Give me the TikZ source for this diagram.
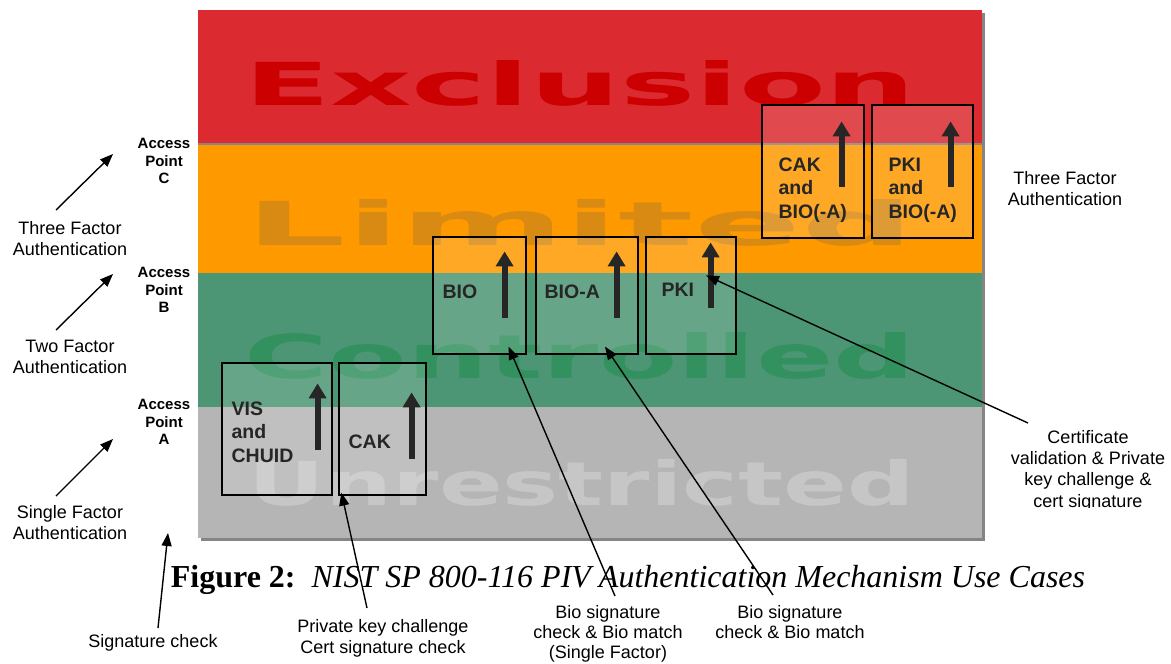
\documentclass[tikz,border=0pt]{standalone}
\usepackage{fontspec}
\setmainfont{Liberation Sans}
\newfontfamily\serifcap{Liberation Serif}
\newfontfamily\zonefont{DejaVu Sans}
\usepackage{graphicx}
\usepackage{tikz}
\usetikzlibrary{positioning, arrows.meta}
\definecolor{exclred}{HTML}{DB2B30}
\definecolor{exclword}{HTML}{CC0000}
\definecolor{limorange}{HTML}{FF9900}
\definecolor{limword}{HTML}{D98A12}
\definecolor{ctrlgreen}{HTML}{4D9675}
\definecolor{ctrlword}{HTML}{33915F}
\definecolor{unrgray}{HTML}{B5B5B5}
\definecolor{unrword}{HTML}{C6C6C6}
\definecolor{shadowgray}{HTML}{858585}
\definecolor{inkgray}{HTML}{262626}

\begin{document}
\begin{tikzpicture}[x=1pt, y=-1pt,
  zoneword/.style={inner sep=0pt, font=\zonefont\bfseries},
  usecase/.style={draw=black, line width=1.2pt, fill=white, fill opacity=0.15, inner sep=0pt},
  caselabel/.style={inner sep=0pt, align=left, text=inkgray,
        font=\bfseries\fontsize{19.5}{23.5}\selectfont},
  lift/.style={draw=inkgray, line width=6pt, -{Triangle[length=15pt, width=17pt]}},
  pointer/.style={line width=1.4pt, -{Triangle[length=13pt, width=10pt]}},
  note/.style={inner sep=0pt, anchor=north, align=center, font=\fontsize{18}{21}\selectfont},
  access/.style={inner sep=0pt, anchor=north, align=center, font=\bfseries\fontsize{15}{17.5}\selectfont}]
  \useasboundingbox[fill=white] (0,0) rectangle (1171,664);

  % zones
  \fill[shadowgray] (201,13) rectangle (985,541);
  \fill[exclred] (198,10) rectangle (982,143);
  \fill[limorange] (198,143) rectangle (982,273);
  \fill[ctrlgreen] (198,273) rectangle (982,407);
  \fill[unrgray] (198,407) rectangle (982,538);
  \draw[shadowgray, line width=2pt] (198,144) -- (982,144);

  \node[zoneword, text=exclword] (exclusion) at (580,83) {\resizebox{672pt}{45pt}{Exclusion}};
  \node[zoneword, text=limword] (limited) at (580,222.5) {\resizebox{668pt}{46pt}{Limited}};
  \node[zoneword, text=ctrlword] (controlled) at (580,355.5) {\resizebox{670pt}{46pt}{Controlled}};
  \node[zoneword, text=unrword] (unrestricted) at (582,482.5) {\resizebox{666pt}{46pt}{Unrestricted}};

  % use case boxes
  \node[usecase, minimum width=110pt, minimum height=132pt] (vis) at (277,429) {};
  \node[usecase, minimum width=87pt, minimum height=132pt] (cakA) at (382.5,429) {};
  \node[usecase, minimum width=93pt, minimum height=117pt] (bio) at (479.5,295.5) {};
  \node[usecase, minimum width=102pt, minimum height=117pt] (bioa) at (587,295.5) {};
  \node[usecase, minimum width=90pt, minimum height=117pt] (pkiB) at (691,295.5) {};
  \node[usecase, minimum width=102pt, minimum height=133pt] (cakC) at (813,171.5) {};
  \node[usecase, minimum width=101pt, minimum height=133pt] (pkiC) at (922.5,171.5) {};

  \node[caselabel, below right=39pt and 10pt of vis.north west] (vislbl) {VIS\\and\\CHUID};
  \node[caselabel, below right=72pt and 10pt of cakA.north west] (caklbl) {CAK};
  \node[caselabel, below right=48pt and 10pt of bio.north west] (biolbl) {BIO};
  \node[caselabel, below right=48pt and 9pt of bioa.north west] (bioalbl) {BIO-A};
  \node[caselabel, below right=46pt and 16pt of pkiB.north west] (pkilbl) {PKI};
  \node[caselabel, below right=53pt and 17pt of cakC.north west] (cakclbl) {CAK\\and\\BIO(-A)};
  \node[caselabel, below right=53pt and 17pt of pkiC.north west] (pkiclbl) {PKI\\and\\BIO(-A)};

  \draw[lift] ([shift={(-15,-46)}]vis.south east) -- ([shift={(-15,21)}]vis.north east);
  \draw[lift] ([shift={(-15,-37)}]cakA.south east) -- ([shift={(-15,30)}]cakA.north east);
  \draw[lift] ([shift={(-22,-37)}]bio.south east) -- ([shift={(-22,15)}]bio.north east);
  \draw[lift] ([shift={(-22,-37)}]bioa.south east) -- ([shift={(-22,15)}]bioa.north east);
  \draw[lift] ([shift={(-26,-47)}]pkiB.south east) -- ([shift={(-26,6)}]pkiB.north east);
  \draw[lift] ([shift={(-23,-52)}]cakC.south east) -- ([shift={(-23,17)}]cakC.north east);
  \draw[lift] ([shift={(-23,-52)}]pkiC.south east) -- ([shift={(-23,17)}]pkiC.north east);

  % access points and factors
  \node[access] (accC) at (164,138) {Access\\Point\\C};
  \node[access] (accB) at (164,267) {Access\\Point\\B};
  \node[access] (accA) at (164,399) {Access\\Point\\A};
  \node[note] (threeL) at (70,221) {Three Factor\\Authentication};
  \node[note] (twoL) at (70,340) {Two Factor\\Authentication};
  \node[note] (oneL) at (70,505) {Single Factor\\Authentication};
  \node[note] (threeR) at (1065,171) {Three Factor\\Authentication};

  \coordinate (tipC) at (113,154);
  \coordinate (tipB) at (113,274);
  \coordinate (tipA) at (113,439);
  \coordinate (tipSig) at (168,533);
  \draw[pointer] ([shift={(-14,-11)}]threeL.north) -- (tipC);
  \draw[pointer] ([shift={(-14,-10)}]twoL.north) -- (tipB);
  \draw[pointer] ([shift={(-14,-9)}]oneL.north) -- (tipA);

  % mechanism notes
  \node[note] (sigL) at (153,634) {Signature check};
  \node[note] (pkcL) at (383,619) {Private key challenge\\Cert signature check};
  \node[note, font=\fontsize{18}{20}\selectfont] (bioL) at (608,605) {Bio signature\\check \& Bio match\\(Single Factor)};
  \node[note, font=\fontsize{18}{20}\selectfont] (biomL) at (790,605) {Bio signature\\check \& Bio match};
  \begin{scope}
    \clip (990,412) rectangle (1171,507.5);
    \node[note, font=\fontsize{18}{21.3}\selectfont] (certL) at (1088,430) {Certificate\\validation \& Private\\key challenge \&\\cert signature};
  \end{scope}

  \draw[pointer] ([shift={(5,-6)}]sigL.north) -- (tipSig);
  \draw[pointer] ([shift={(-16,-11)}]pkcL.north) -- ([shift={(3,-3)}]cakA.south west);
  \draw[pointer] ([shift={(7,-9)}]bioL.north) -- ([shift={(-18,-8)}]bio.south east);
  \draw[pointer] ([shift={(-17,-10)}]biomL.north) -- ([shift={(18,-8)}]bioa.south);
  \draw[pointer] ([shift={(-60,-7)}]certL.north) -- ([shift={(15,39)}]pkiB.north);

  % caption
  \node[inner sep=0pt, anchor=base, font=\serifcap\fontsize{32}{36}\selectfont] (caption) at (628,587)
    {\textbf{Figure 2:}\hspace{0.5em}\textit{NIST SP 800-116 PIV Authentication Mechanism Use Cases}};
\end{tikzpicture}
\end{document}
